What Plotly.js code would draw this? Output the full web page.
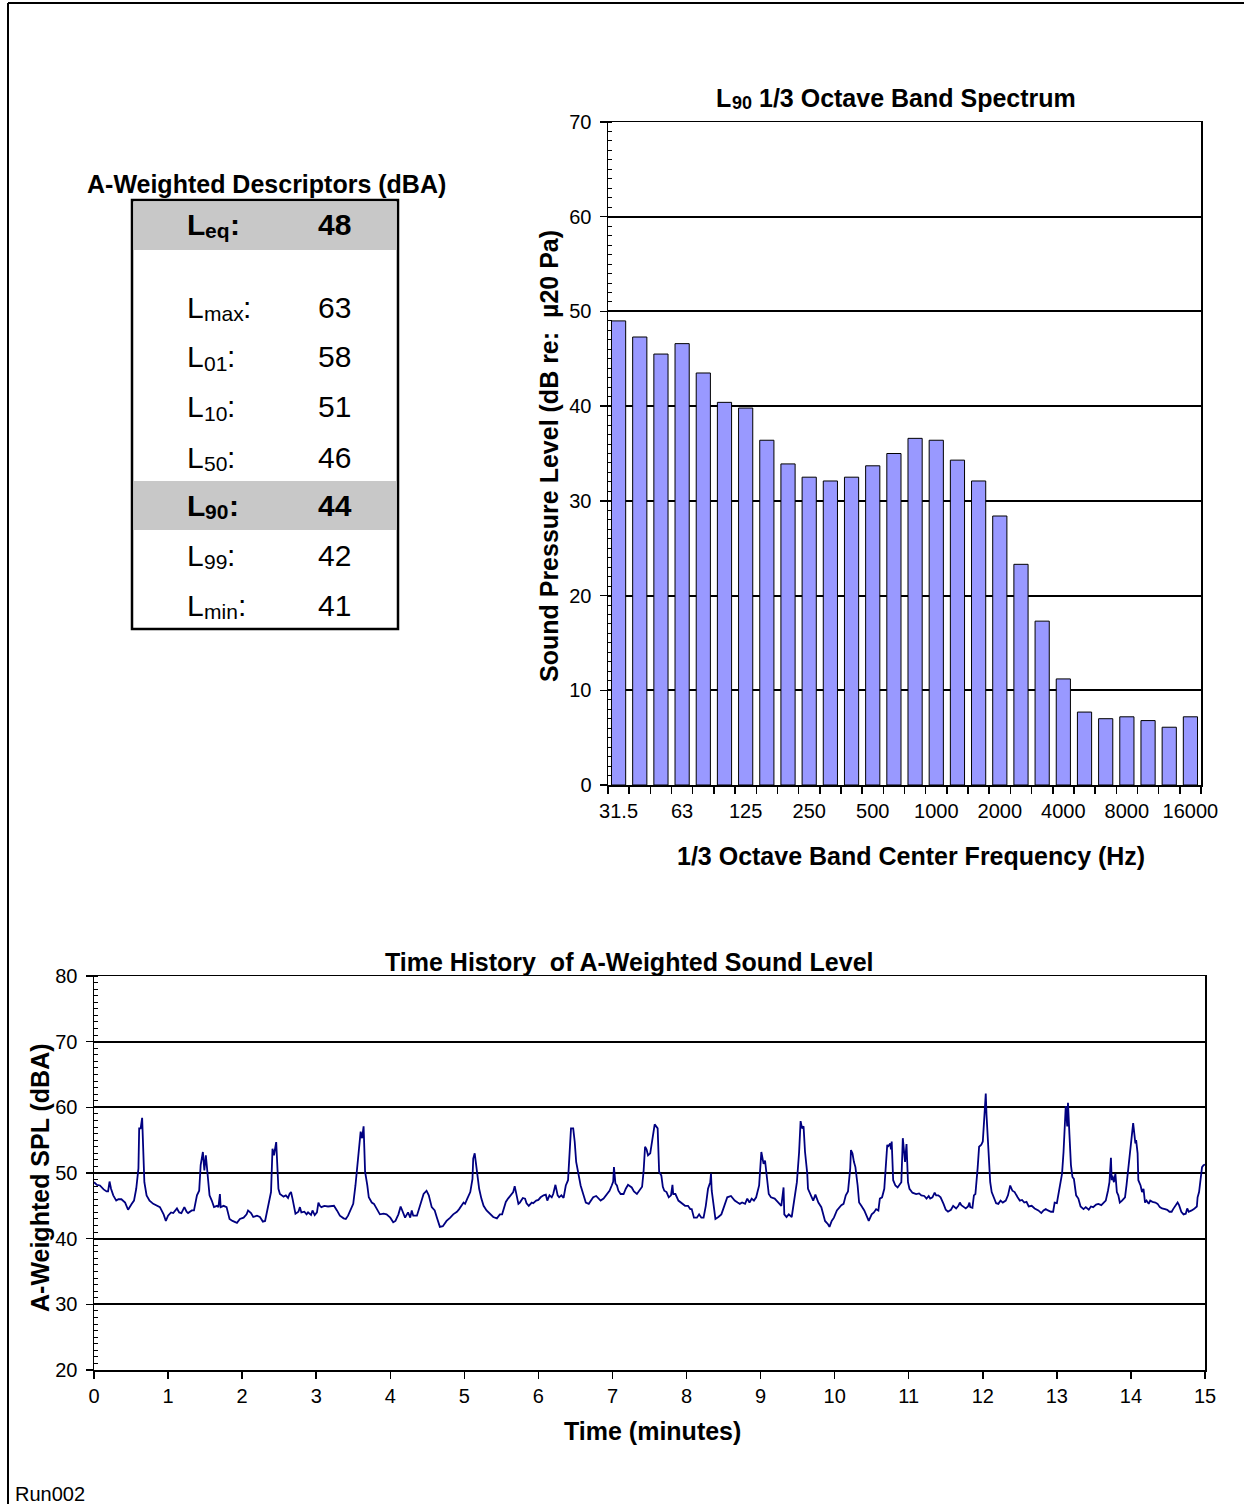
<!DOCTYPE html>
<html><head><meta charset="utf-8">
<script src="https://cdn.plot.ly/plotly-3.0.1.min.js"></script>
<style>html,body{margin:0;padding:0;background:#fff}#chart{width:1244px;height:1504px}</style>
</head><body><div id="chart"></div>
<script>
// ---------- data ----------
const bands = ['31.5','40','50','63','80','100','125','160','200','250','315','400','500','630','800',
  '1000','1250','1600','2000','2500','3150','4000','5000','6300','8000','10000','12500','16000'];
const labeledBands = ['31.5','63','125','250','500','1000','2000','4000','8000','16000'];
const l90Spectrum = [49.0,47.3,45.5,46.6,43.5,40.4,39.8,36.4,33.9,32.5,32.1,32.5,33.7,35.0,36.6,
  36.4,34.3,32.1,28.4,23.3,17.3,11.2,7.7,7.0,7.2,6.8,6.1,7.2];

const timeMin = [
 0.00,0.04,0.08,0.13,0.17,0.19,0.21,0.23,0.26,0.30,0.33,0.37,0.42,0.46,0.51,0.54,0.57,0.60,0.61,0.63,0.65,0.67,0.68,0.71,0.75,0.80,0.89,0.94,0.97,
 1.00,1.04,1.07,1.12,1.15,1.18,1.22,1.25,1.27,1.32,1.35,1.39,1.42,1.44,1.47,1.49,1.51,1.53,1.56,1.59,1.62,1.66,1.68,1.70,1.71,1.75,1.79,1.83,1.87,1.93,1.97,
 2.02,2.06,2.08,2.12,2.15,2.20,2.24,2.28,2.31,2.35,2.39,2.41,2.43,2.46,2.48,2.49,2.51,2.56,2.59,2.62,2.64,2.66,2.68,2.70,2.72,2.76,2.78,2.80,2.84,2.87,2.89,2.93,2.95,2.98,
 3.01,3.03,3.05,3.07,3.11,3.16,3.21,3.24,3.28,3.32,3.37,3.40,3.43,3.47,3.50,3.53,3.56,3.58,3.60,3.62,3.64,3.65,3.66,3.69,3.71,3.75,3.78,3.82,3.86,3.91,3.95,
 4.00,4.04,4.07,4.11,4.14,4.17,4.20,4.24,4.27,4.29,4.31,4.36,4.40,4.45,4.49,4.52,4.56,4.60,4.63,4.67,4.71,4.76,4.81,4.85,4.90,4.93,4.99,
 5.01,5.04,5.08,5.11,5.12,5.14,5.16,5.18,5.20,5.23,5.26,5.30,5.35,5.39,5.44,5.48,5.51,5.54,5.56,5.59,5.63,5.66,5.68,5.71,5.73,5.75,5.79,5.82,5.84,5.87,5.91,5.93,5.97,
 6.00,6.03,6.07,6.10,6.12,6.15,6.18,6.20,6.23,6.26,6.28,6.31,6.34,6.37,6.40,6.42,6.44,6.47,6.49,6.51,6.54,6.57,6.61,6.64,6.68,6.71,6.74,6.78,6.81,6.84,6.88,6.92,6.96,6.99,
 7.01,7.02,7.04,7.06,7.08,7.11,7.15,7.18,7.21,7.26,7.29,7.33,7.36,7.40,7.42,7.44,7.46,7.48,7.51,7.55,7.57,7.59,7.61,7.63,7.66,7.68,7.70,7.73,7.76,7.79,7.81,7.82,7.85,7.89,7.93,7.98,
 8.02,8.05,8.07,8.10,8.14,8.17,8.20,8.23,8.26,8.29,8.32,8.33,8.34,8.37,8.39,8.43,8.47,8.51,8.55,8.60,8.65,8.69,8.72,8.75,8.79,8.82,8.85,8.88,8.91,8.94,8.98,
 9.01,9.02,9.04,9.06,9.08,9.11,9.14,9.19,9.24,9.28,9.31,9.32,9.35,9.38,9.42,9.46,9.49,9.52,9.54,9.56,9.58,9.60,9.63,9.64,9.68,9.71,9.74,9.78,9.82,9.85,9.87,9.91,9.93,9.96,9.99,
 10.03,10.06,10.09,10.12,10.15,10.18,10.21,10.22,10.24,10.26,10.28,10.31,10.33,10.36,10.40,10.43,10.46,10.50,10.53,10.56,10.59,10.61,10.64,10.67,10.69,10.71,10.72,10.75,10.76,10.77,10.79,10.82,10.85,10.87,10.90,10.92,10.94,10.95,10.97,10.99,
 11.01,11.05,11.10,11.14,11.17,11.21,11.24,11.27,11.29,11.32,11.35,11.37,11.40,11.43,11.47,11.50,11.53,11.57,11.60,11.64,11.67,11.69,11.71,11.74,11.77,11.80,11.82,11.83,11.86,11.88,11.90,11.93,11.95,11.98,
 12.00,12.02,12.04,12.05,12.08,12.10,12.12,12.15,12.18,12.21,12.24,12.27,12.31,12.34,12.37,12.40,12.43,12.47,12.50,12.53,12.56,12.59,12.62,12.66,12.70,12.75,12.79,12.82,12.85,12.88,12.92,12.95,12.97,
 13.00,13.02,13.04,13.07,13.09,13.11,13.12,13.14,13.15,13.17,13.19,13.21,13.23,13.26,13.29,13.32,13.36,13.39,13.43,13.46,13.49,13.53,13.56,13.60,13.63,13.66,13.69,13.71,13.73,13.74,13.75,13.77,13.79,13.81,13.83,13.85,13.88,13.92,13.94,13.96,13.99,
 14.01,14.03,14.06,14.07,14.09,14.10,14.13,14.15,14.17,14.19,14.21,14.24,14.26,14.29,14.33,14.36,14.39,14.42,14.46,14.49,14.52,14.55,14.57,14.60,14.63,14.65,14.68,14.71,14.74,14.76,14.78,14.82,14.85,14.89,14.90,14.92,14.94,14.96,14.98,15.00
];
const levelDbA = [
 48.6,48.2,48.1,47.5,47.2,47.2,48.7,47.6,46.6,45.8,46.0,46.0,45.5,44.4,45.3,45.8,47.6,50.7,56.8,56.8,58.4,53.2,48.6,46.6,45.8,45.3,44.8,43.7,42.7,
 43.5,44.0,43.9,44.6,44.0,43.9,44.8,44.1,43.9,44.3,44.3,46.6,47.3,51.2,53.2,50.4,52.7,50.2,46.6,45.8,44.8,45.0,44.8,46.8,44.8,45.0,44.8,43.0,42.7,42.4,43.0,
 43.2,43.7,44.3,43.9,43.3,43.5,43.3,42.6,42.7,45.0,47.1,53.7,52.7,54.7,50.2,47.6,46.8,46.4,46.6,46.2,46.8,47.1,46.1,45.0,43.8,44.1,44.8,44.0,44.1,43.7,44.0,43.6,44.3,43.6,
 44.0,45.5,45.0,44.8,45.0,44.9,44.9,45.0,44.3,43.5,43.1,43.0,43.5,44.5,45.3,48.1,51.2,54.3,56.3,55.3,57.1,53.7,50.2,48.1,46.3,45.5,45.3,44.5,43.7,43.8,43.7,
 43.2,42.5,42.7,43.7,44.9,43.9,43.2,44.0,43.2,44.3,43.5,43.5,45.0,46.8,47.3,46.6,44.8,44.3,43.2,41.8,41.9,42.7,43.2,43.7,44.1,44.5,45.5,
 45.3,46.1,47.1,49.1,52.2,53.0,51.2,49.6,47.6,46.1,45.0,44.3,43.7,43.3,43.1,43.7,43.7,45.0,45.6,46.1,46.6,47.1,48.0,46.1,45.3,45.5,46.2,46.1,45.4,45.0,45.5,45.4,45.8,
 45.9,46.3,46.6,46.7,45.8,46.6,46.3,46.8,48.2,46.6,46.3,46.6,46.2,48.1,48.9,53.2,56.8,56.8,54.8,51.7,49.9,48.1,46.6,45.5,45.3,45.8,46.3,46.5,46.1,45.8,46.1,46.8,47.3,48.1,
 48.7,50.9,48.4,48.1,47.3,46.8,46.8,47.6,48.2,47.8,47.2,46.8,47.3,47.9,50.2,54.0,53.6,52.7,53.0,55.8,57.4,57.1,56.8,50.2,49.6,47.9,47.3,47.1,46.3,46.6,48.2,46.8,46.8,45.8,45.5,45.0,
 45.0,44.5,44.5,43.2,43.2,43.7,43.2,43.2,45.0,47.6,48.6,49.9,47.3,44.5,43.0,43.3,43.7,45.0,46.3,46.5,45.8,45.5,45.3,45.5,45.3,46.1,45.5,46.1,45.8,46.3,48.1,
 53.2,52.5,51.4,51.9,49.6,46.8,46.3,46.1,45.5,45.0,47.8,43.7,43.3,43.7,43.3,46.1,48.6,53.2,57.9,56.8,57.1,53.2,49.9,47.6,46.6,45.8,46.7,45.5,44.8,43.7,42.7,42.2,41.8,42.7,43.2,
 44.3,44.8,45.1,45.3,46.6,47.2,50.7,53.5,53.0,51.7,50.9,48.1,45.5,45.0,44.3,43.5,42.7,43.7,44.0,44.5,44.3,46.1,46.3,47.6,50.7,54.3,54.0,54.5,53.6,54.8,48.9,48.1,47.8,48.1,48.6,55.3,52.5,51.7,54.4,48.6,
 47.6,47.0,46.8,46.9,46.6,46.5,46.1,46.5,46.1,46.3,47.0,46.6,46.6,46.3,45.3,44.4,44.1,44.4,45.0,44.6,45.0,45.5,45.1,44.8,44.6,44.9,45.5,44.8,44.7,46.6,46.8,50.7,54.0,54.3,
 54.8,58.4,62.1,58.9,53.2,48.6,47.1,46.1,45.4,45.3,45.8,45.5,45.8,46.6,48.1,47.3,47.1,46.3,45.8,45.9,45.5,45.6,44.9,45.0,44.6,44.3,43.9,44.3,44.5,44.3,44.1,44.1,45.5,
 45.4,46.8,48.1,49.9,53.2,57.3,60.2,57.1,60.7,55.8,51.2,49.4,49.1,46.6,46.1,44.9,44.5,44.8,44.4,44.9,44.8,45.2,45.3,45.1,45.5,45.8,47.3,48.6,52.3,48.9,49.6,48.6,49.9,47.1,46.6,45.5,45.8,46.3,48.1,50.2,52.7,
 55.0,57.6,54.5,55.0,53.0,48.9,48.1,47.1,47.6,45.5,45.8,45.3,45.8,45.6,45.5,45.3,44.8,44.6,44.5,44.4,44.1,44.1,44.5,45.0,45.5,45.1,44.1,43.7,43.8,44.6,44.1,44.3,44.5,44.9,46.3,47.1,49.1,50.9,51.2,51.3
];

const descNames  = ['eq','max','01','10','50','90','99','min'];
const descValues = [48, 63, 58, 51, 46, 44, 42, 41];
const descHighlighted = ['eq','90'];

// ---------- layout helpers ----------
const W = 1244, H = 1504;
const px = x => x / W;
const py = y => 1 - y / H;
const FONT = 'Liberation Sans, Arial, sans-serif';
const black = '#000000';

const cv = document.createElement('canvas').getContext('2d');
function textWidth(t, size, bold) {
  cv.font = (bold ? 'bold ' : '') + size + 'px "Liberation Sans", Arial, sans-serif';
  return cv.measureText(t).width;
}

// bands are placed on a numeric band-index scale so that ticks can sit between bands
const bandIndex = bands.map((b, i) => i);
const labeledIndex = labeledBands.map(b => bands.indexOf(b));

const traces = [
  {
    type: 'bar', x: bandIndex, y: l90Spectrum, xaxis: 'x', yaxis: 'y',
    customdata: bands, hovertemplate: '%{customdata} Hz: %{y} dB<extra></extra>',
    marker: {color: '#9999FF', line: {color: black, width: 1}},
    showlegend: false
  },
  {
    type: 'scatter', mode: 'lines', x: timeMin, y: levelDbA, xaxis: 'x2', yaxis: 'y2',
    line: {color: '#000080', width: 1.8}, showlegend: false
  }
];

const tickFont = {family: FONT, size: 20, color: black};
const titleFont = {family: FONT, size: 25, color: black, weight: 700};

const annotations = [];
function ann(text, x, y, opts) {
  annotations.push(Object.assign({
    text: text, x: px(x), y: py(y), xref: 'paper', yref: 'paper',
    showarrow: false, xanchor: 'center', yanchor: 'middle', font: titleFont, borderpad: 0
  }, opts || {}));
}
// "L" + subscript + tail, drawn as separate texts placed side by side (left edge at x, mid-line at y)
const SUB_SCALE = 0.7, SUB_DROP = 0.12;
function subscripted(main, sub, tail, x, y, size, bold) {
  const subSize = Math.round(size * SUB_SCALE);
  const f = {family: FONT, size: size, color: black, weight: bold ? 700 : 400};
  const fs = {family: FONT, size: subSize, color: black, weight: bold ? 700 : 400};
  let cx = x;
  ann(main, cx, y, {xanchor: 'left', font: f});
  cx += textWidth(main, size, bold);
  const baseline = y + 0.3465 * size;
  ann(sub, cx, baseline + SUB_DROP * size - 0.3465 * subSize, {xanchor: 'left', font: fs});
  cx += textWidth(sub, subSize, bold);
  if (tail) {
    const lead = tail.match(/^ */)[0].length;
    cx += lead * textWidth(' ', size, bold);
    ann(tail.trim(), cx, y, {xanchor: 'left', font: f});
  }
}
function subscriptedWidth(main, sub, tail, size, bold) {
  return textWidth(main, size, bold) + textWidth(sub, Math.round(size * SUB_SCALE), bold) + (tail ? textWidth(tail, size, bold) : 0);
}

// chart titles
const t1 = ['L', '90', ' 1/3 Octave Band Spectrum'];
subscripted(t1[0], t1[1], t1[2], 895 - subscriptedWidth(t1[0], t1[1], t1[2], 25, true) / 2, 98, 25, true);
ann('Time History  of A-Weighted Sound Level', 629, 962);
// axis titles
ann('1/3 Octave Band Center Frequency (Hz)', 911, 856);
ann('Sound Pressure Level (dB re:  \u00B520 Pa)', 549, 456, {textangle: -90});
ann('Time (minutes)', 652, 1431);
ann('A-Weighted SPL (dBA)', 40, 1178, {textangle: -90});
// table title
ann('A-Weighted Descriptors (dBA)', 266, 184);
// table rows
const rowY = [224, 307, 357, 407, 457, 505, 555, 605];
descNames.forEach((n, i) => {
  const hl = descHighlighted.includes(n);
  subscripted('L', n, ':', 186, rowY[i], 30, hl);
  ann(String(descValues[i]), 335, rowY[i], {font: {family: FONT, size: 30, color: black, weight: hl ? 700 : 400}});
});
// footer
ann('Run002', 14, 1494, {xanchor: 'left', font: {family: FONT, size: 20, color: black}});

const shapes = [
  // page frame
  {type: 'line', xref: 'paper', yref: 'paper', x0: px(8), x1: px(1244), y0: py(3), y1: py(3), line: {color: black, width: 2}},
  {type: 'line', xref: 'paper', yref: 'paper', x0: px(8), x1: px(8), y0: py(3), y1: py(1504), line: {color: black, width: 2}},
  // table shading
  {type: 'rect', xref: 'paper', yref: 'paper', x0: px(134), x1: px(396), y0: py(202), y1: py(250), fillcolor: '#c8c8c8', line: {width: 0}, layer: 'below'},
  {type: 'rect', xref: 'paper', yref: 'paper', x0: px(134), x1: px(396), y0: py(481), y1: py(530), fillcolor: '#c8c8c8', line: {width: 0}, layer: 'below'},
  // table border
  {type: 'rect', xref: 'paper', yref: 'paper', x0: px(132), x1: px(398), y0: py(200), y1: py(629), line: {color: black, width: 2.5}}
];

const layout = {
  width: W, height: H,
  margin: {l: 0, r: 0, t: 0, b: 0, pad: 0},
  paper_bgcolor: '#ffffff', plot_bgcolor: '#ffffff',
  showlegend: false,
  font: {family: FONT, color: black},
  bargap: 0.33,
  xaxis: {
    domain: [px(608), px(1201)], anchor: 'y', type: 'linear',
    range: [-0.5, bands.length - 0.5],
    tickmode: 'array', tickvals: labeledIndex, ticktext: labeledBands, tickangle: 0,
    ticks: 'outside', ticklen: 7, tickwidth: 0, tickcolor: 'rgba(0,0,0,0)',
    minor: {tickmode: 'linear', tick0: -0.5, dtick: 1, ticks: 'outside', ticklen: 7, tickwidth: 1.5, tickcolor: black, showgrid: false},
    showline: true, mirror: true, linecolor: black, linewidth: 1.5,
    showgrid: false, zeroline: false, tickfont: tickFont, fixedrange: true
  },
  yaxis: {
    domain: [py(785), py(122)], anchor: 'x',
    range: [0, 70], tickmode: 'linear', tick0: 0, dtick: 10,
    ticks: 'outside', ticklen: 7, tickwidth: 1.5, tickcolor: black, ticklabelstandoff: 4,
    minor: {dtick: 1, ticks: 'inside', ticklen: 4, tickcolor: black, tickwidth: 1, showgrid: false},
    showline: true, mirror: true, linecolor: black, linewidth: 1.5,
    showgrid: true, gridcolor: black, gridwidth: 2, zeroline: false,
    tickfont: tickFont, fixedrange: true
  },
  xaxis2: {
    domain: [px(94), px(1205)], anchor: 'y2',
    range: [0, 15], tickmode: 'linear', tick0: 0, dtick: 1,
    ticks: 'outside', ticklen: 7, tickwidth: 1.5, tickcolor: black,
    showline: true, mirror: true, linecolor: black, linewidth: 1.5,
    showgrid: false, zeroline: false, tickfont: tickFont, fixedrange: true
  },
  yaxis2: {
    domain: [py(1370), py(976)], anchor: 'x2',
    range: [20, 80], tickmode: 'linear', tick0: 20, dtick: 10,
    ticks: 'outside', ticklen: 7, tickwidth: 1.5, tickcolor: black, ticklabelstandoff: 4,
    minor: {dtick: 1, ticks: 'inside', ticklen: 4, tickcolor: black, tickwidth: 1, showgrid: false},
    showline: true, mirror: true, linecolor: black, linewidth: 1.5,
    showgrid: true, gridcolor: black, gridwidth: 2, zeroline: false,
    tickfont: tickFont, fixedrange: true
  },
  annotations: annotations,
  shapes: shapes
};

Plotly.newPlot('chart', traces, layout, {displayModeBar: false, staticPlot: true});
</script>
</body></html>
